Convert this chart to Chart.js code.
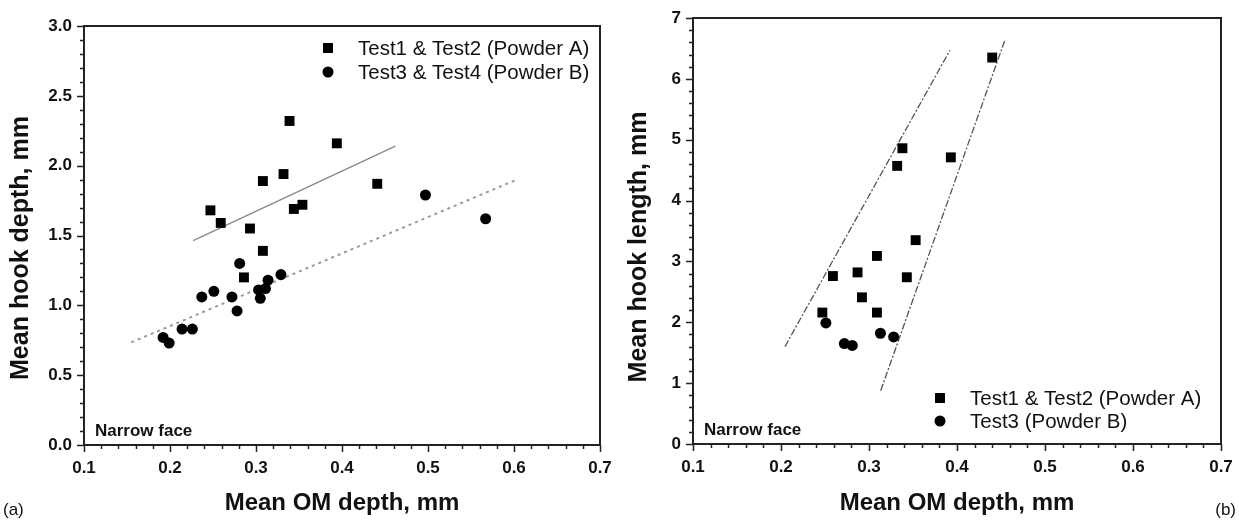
<!DOCTYPE html>
<html>
<head>
<meta charset="utf-8">
<script src="https://cdn.jsdelivr.net/npm/chart.js@4.4.1/dist/chart.umd.min.js"></script>
<style>
  body { margin: 0; background: #fff; width: 1239px; height: 521px; overflow: hidden; position: relative; }
  canvas { position: absolute; top: 0; }
  #chartA { left: 0; }
  #chartB { left: 620px; }
</style>
</head>
<body>
<canvas id="chartA" width="620" height="521"></canvas>
<canvas id="chartB" width="619" height="521"></canvas>
<script>
// ---- data ----
const xTicks = [0.1, 0.2, 0.3, 0.4, 0.5, 0.6, 0.7];

// (a) hook depth vs OM depth
const depthA_om   = [0.339, 0.394, 0.332, 0.308, 0.441, 0.247, 0.259, 0.344, 0.354, 0.293, 0.308, 0.286];
const depthA_hook = [2.32, 2.16, 1.94, 1.89, 1.87, 1.68, 1.59, 1.69, 1.72, 1.55, 1.39, 1.20];
const depthB_om   = [0.281, 0.329, 0.314, 0.311, 0.303, 0.305, 0.251, 0.237, 0.272, 0.278, 0.214, 0.226, 0.192, 0.199, 0.497, 0.567];
const depthB_hook = [1.30, 1.22, 1.18, 1.12, 1.11, 1.05, 1.10, 1.06, 1.06, 0.96, 0.83, 0.83, 0.77, 0.73, 1.79, 1.62];
const fitA_om   = [0.227, 0.462];
const fitA_hook = [1.463, 2.14];
const fitB_om   = [0.155, 0.602];
const fitB_hook = [0.735, 1.897];
const depthTicks = [0, 0.5, 1.0, 1.5, 2.0, 2.5, 3.0];

// (b) hook length vs OM depth
const lengthA_om   = [0.440, 0.338, 0.332, 0.393, 0.353, 0.309, 0.259, 0.287, 0.343, 0.292, 0.247, 0.309];
const lengthA_hook = [6.35, 4.86, 4.57, 4.71, 3.35, 3.09, 2.76, 2.82, 2.74, 2.41, 2.16, 2.16];
const lengthB_om   = [0.251, 0.272, 0.281, 0.313, 0.328];
const lengthB_hook = [1.99, 1.65, 1.62, 1.82, 1.76];
const boundLow_om   = [0.2045, 0.392];
const boundLow_hook = [1.60, 6.47];
const boundHigh_om   = [0.3133, 0.4545];
const boundHigh_hook = [0.876, 6.64];
const lengthTicks = [0, 1, 2, 3, 4, 5, 6, 7];

const labelA_a = 'Test1 & Test2 (Powder A)';
const labelB_a = 'Test3 & Test4 (Powder B)';
const labelA_b = 'Test1 & Test2 (Powder A)';
const labelB_b = 'Test3 (Powder B)';

function pts(xs, ys) {
    return xs.map((x, i) => ({ x, y: ys[i] }));
}

const FONT = "'Liberation Sans', Arial, sans-serif";

// box around the plot plus major/minor tick marks
const framePlugin = {
    id: 'frame',
    afterDraw(chart, args, opts) {
        const { ctx, chartArea: a, scales } = chart;
        ctx.save();
        ctx.strokeStyle = '#222';
        ctx.lineWidth = 1.5;
        const drawTicks = (scale, minor, horizontal) => {
            const n = Math.round((scale.max - scale.min) / minor);
            for (let i = 0; i <= n; i++) {
                const v = scale.min + i * minor;
                const p = Math.round(scale.getPixelForValue(v)) + 0.5;
                const len = i % 5 === 0 ? 7 : 4;
                ctx.beginPath();
                if (horizontal) {
                    ctx.moveTo(p, a.bottom);
                    ctx.lineTo(p, a.bottom + len);
                } else {
                    ctx.moveTo(a.left, p);
                    ctx.lineTo(a.left - len, p);
                }
                ctx.stroke();
            }
        };
        drawTicks(scales.x, opts.xMinor, true);
        drawTicks(scales.y, opts.yMinor, false);
        ctx.lineWidth = 2;
        ctx.strokeRect(a.left, a.top, a.right - a.left, a.bottom - a.top);
        ctx.restore();
    }
};

// axis titles, legend, panel notes
const textPlugin = {
    id: 'texts',
    afterDraw(chart, args, opts) {
        const { ctx, chartArea: a } = chart;
        ctx.save();
        ctx.fillStyle = '#111';
        ctx.textBaseline = 'middle';

        ctx.font = 'bold 24px ' + FONT;
        ctx.textAlign = 'center';
        ctx.fillText(opts.xTitle, (a.left + a.right) / 2, opts.xTitleY);
        ctx.font = 'bold 25px ' + FONT;
        ctx.save();
        ctx.translate(opts.yTitleX, opts.yTitleY);
        ctx.rotate(-Math.PI / 2);
        ctx.fillText(opts.yTitle, 0, 0);
        ctx.restore();

        ctx.font = 'bold 17px ' + FONT;
        ctx.textAlign = 'left';
        ctx.fillText('Narrow face', a.left + 11, a.bottom - 14);

        ctx.font = '17px ' + FONT;
        ctx.textAlign = opts.panelAlign;
        ctx.fillText(opts.panel, opts.panelX, 510);

        // legend from the scatter datasets
        ctx.font = '20.5px ' + FONT;
        ctx.textAlign = 'left';
        let y = opts.legendY;
        chart.data.datasets.filter(d => d.label).forEach(d => {
            const mx = opts.legendX;
            ctx.fillStyle = '#000';
            ctx.beginPath();
            if (d.pointStyle === 'rect') {
                ctx.rect(mx - 5, y - 5, 10, 10);
            } else {
                ctx.arc(mx, y, 5.5, 0, Math.PI * 2);
            }
            ctx.fill();
            ctx.fillStyle = '#111';
            ctx.fillText(d.label, mx + 30, y + 1);
            y += opts.legendGap;
        });
        ctx.restore();
    }
};

function makeChart(id, cfg) {
    const ctx = document.getElementById(id).getContext('2d');
    return new Chart(ctx, {
        type: 'scatter',
        data: { datasets: cfg.datasets },
        options: {
            responsive: false,
            animation: false,
            devicePixelRatio: 1,
            events: [],
            layout: { padding: { left: 0, top: cfg.top, right: cfg.right, bottom: 0 } },
            plugins: {
                legend: { display: false },
                tooltip: { enabled: false },
                frame: { xMinor: 0.02, yMinor: cfg.yMinor },
                texts: cfg.texts
            },
            scales: {
                x: {
                    type: 'linear',
                    min: 0.1, max: 0.7,
                    afterFit: s => { s.height = cfg.xHeight; },
                    afterBuildTicks: s => { s.ticks = xTicks.map(v => ({ value: v })); },
                    grid: { display: false, drawTicks: true, tickLength: 7 },
                    border: { display: false },
                    ticks: {
                        padding: 6,
                        color: '#111',
                        font: { family: FONT, size: 17, weight: 'bold' },
                        callback: v => v.toFixed(1)
                    }
                },
                y: {
                    type: 'linear',
                    min: cfg.yMin, max: cfg.yMax,
                    afterFit: s => { s.width = cfg.yWidth; },
                    afterBuildTicks: s => { s.ticks = cfg.yTicks.map(v => ({ value: v })); },
                    grid: { display: false, drawTicks: true, tickLength: 7 },
                    border: { display: false },
                    ticks: {
                        padding: 5,
                        color: '#111',
                        font: { family: FONT, size: 17, weight: 'bold' },
                        callback: v => v.toFixed(cfg.yDigits)
                    }
                }
            }
        },
        plugins: [framePlugin, textPlugin]
    });
}

const squareStyle = { pointStyle: 'rect', pointRadius: 7, backgroundColor: '#000', borderColor: '#000', borderWidth: 0 };
const circleStyle = { pointStyle: 'circle', pointRadius: 5.5, backgroundColor: '#000', borderColor: '#000', borderWidth: 0 };

makeChart('chartA', {
    top: 26, right: 20, xHeight: 76, yWidth: 84,
    yMin: 0, yMax: 3, yTicks: depthTicks, yDigits: 1, yMinor: 0.1,
    texts: {
        xTitle: 'Mean OM depth, mm', xTitleY: 503,
        yTitle: 'Mean hook depth, mm', yTitleX: 21, yTitleY: 248,
        panel: '(a)', panelX: 3, panelAlign: 'left',
        legendX: 328, legendY: 48, legendGap: 24
    },
    datasets: [
        { label: labelA_a, data: pts(depthA_om, depthA_hook), ...squareStyle },
        { label: labelB_a, data: pts(depthB_om, depthB_hook), ...circleStyle },
        { data: pts(fitA_om, fitA_hook), showLine: true, pointRadius: 0, borderColor: '#8a8a8a', borderWidth: 1.5 },
        { data: pts(fitB_om, fitB_hook), showLine: true, pointRadius: 0, borderColor: '#9a9a9a', borderWidth: 2, borderDash: [3, 4] }
    ]
});

makeChart('chartB', {
    top: 18, right: 18, xHeight: 77, yWidth: 73,
    yMin: 0, yMax: 7, yTicks: lengthTicks, yDigits: 0, yMinor: 0.2,
    texts: {
        xTitle: 'Mean OM depth, mm', xTitleY: 503,
        yTitle: 'Mean hook length, mm', yTitleX: 19, yTitleY: 247,
        panel: '(b)', panelX: 616, panelAlign: 'right',
        legendX: 320, legendY: 398, legendGap: 23
    },
    datasets: [
        { label: labelA_b, data: pts(lengthA_om, lengthA_hook), ...squareStyle },
        { label: labelB_b, data: pts(lengthB_om, lengthB_hook), ...circleStyle },
        { data: pts(boundLow_om, boundLow_hook), showLine: true, pointRadius: 0, borderColor: '#555', borderWidth: 1.3, borderDash: [7, 2, 2, 2] },
        { data: pts(boundHigh_om, boundHigh_hook), showLine: true, pointRadius: 0, borderColor: '#555', borderWidth: 1.3, borderDash: [7, 2, 2, 2] }
    ]
});
</script>
</body>
</html>
